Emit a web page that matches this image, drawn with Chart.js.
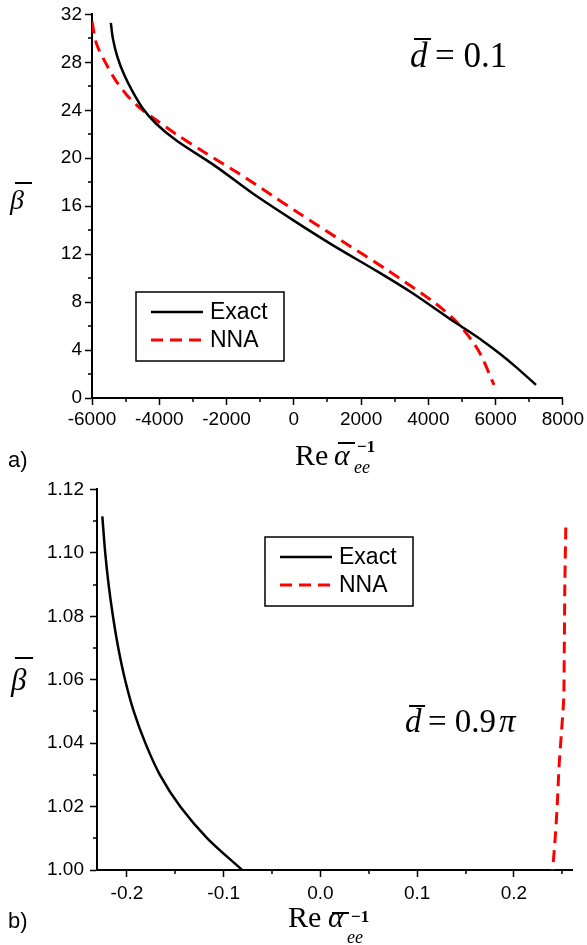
<!DOCTYPE html>
<html>
<head>
<meta charset="utf-8">
<script src="https://cdn.jsdelivr.net/npm/chart.js@4.4.0/dist/chart.umd.min.js"></script>
<style>
    body { margin: 0; background: #fff; width: 587px; height: 945px; position: relative; overflow: hidden; }
    canvas { position: absolute; left: 0; }
    #chartA { top: 0; }
    #chartB { top: 472px; }
    .t { position: absolute; white-space: nowrap; line-height: 1; color: #000; }
    .sans { font-family: "Liberation Sans", Arial, sans-serif; }
    .serif { font-family: "Liberation Serif", "Times New Roman", serif; }
    .it { font-style: italic; }
    .bar { position: absolute; height: 2px; background: #000; }
</style>
</head>
<body>
<canvas id="chartA" width="587" height="472"></canvas>
<canvas id="chartB" width="587" height="473"></canvas>

<!-- panel a texts -->
<div class="t sans" style="left:8px;top:449px;font-size:22px">a)</div>
<div class="t serif it" style="left:10px;top:186px;font-size:28px">&beta;</div>
<div class="bar" style="left:15px;top:182px;width:17px"></div>
<div class="t serif" style="left:295px;top:440px;font-size:30px">Re</div>
<div class="t serif it" style="left:334px;top:440px;font-size:30px">&alpha;</div>
<div class="bar" style="left:338px;top:442px;width:17px"></div>
<div class="t serif" style="left:357px;top:438px;font-size:17px;font-weight:bold">&minus;1</div>
<div class="t serif it" style="left:354px;top:458px;font-size:18px">ee</div>
<div class="t serif it" style="left:410px;top:38px;font-size:35px">d</div>
<div class="bar" style="left:414px;top:38px;width:17px"></div>
<div class="t serif" style="left:435px;top:38px;font-size:35px">= 0.1</div>

<!-- panel b texts -->
<div class="t sans" style="left:8px;top:910px;font-size:22px">b)</div>
<div class="t serif it" style="left:11px;top:664px;font-size:31px">&beta;</div>
<div class="bar" style="left:15px;top:657px;width:18px"></div>
<div class="t serif" style="left:288px;top:902px;font-size:30px">Re</div>
<div class="t serif it" style="left:328px;top:902px;font-size:30px">&alpha;</div>
<div class="bar" style="left:332px;top:912px;width:17px"></div>
<div class="t serif" style="left:351px;top:908px;font-size:17px;font-weight:bold">&minus;1</div>
<div class="t serif it" style="left:347px;top:928px;font-size:18px">ee</div>
<div class="t serif it" style="left:405px;top:705px;font-size:33px">d</div>
<div class="bar" style="left:409px;top:705px;width:16px"></div>
<div class="t serif" style="left:428px;top:705px;font-size:33px">= 0.9<span class="it">&#8202;&pi;</span></div>

<script>
// Panel a) d = 0.1
const exactAX = [-5440, -5380, -5250, -5050, -4800, -4500, -4100, -3500, -2310, -1240, 0, 1130, 2520, 3500, 4590, 5100, 5600, 6100, 6600, 7200];
const exactAY = [31.3, 30.0, 28.5, 27.0, 25.6, 24.2, 22.9, 21.5, 19.3, 17.1, 14.8, 12.8, 10.5, 8.8, 6.7, 5.75, 4.8, 3.75, 2.6, 1.1];
const nnaAX = [-6000, -5860, -5565, -5320, -4973, -4580, -4195, -3494, -2716, -1620, -645, 50, 1430, 2817, 4207, 4888, 5480, 5953];
const nnaAY = [31.4, 29.5, 27.8, 26.6, 25.3, 24.2, 23.4, 22.0, 20.6, 18.7, 16.9, 15.6, 13.1, 10.6, 7.9, 6.2, 4.0, 1.1];

const xTicksA = [-6000, -4000, -2000, 0, 2000, 4000, 6000, 8000];
const xMinorA = [-5000, -3000, -1000, 1000, 3000, 5000, 7000];
const yTicksA = [0, 4, 8, 12, 16, 20, 24, 28, 32];
const yMinorA = [2, 6, 10, 14, 18, 22, 26, 30];

// Panel b) d = 0.9 pi
const exactBX = [-0.2255, -0.2225, -0.219, -0.2145, -0.209, -0.202, -0.193, -0.181, -0.166, -0.145, -0.117, -0.081];
const exactBY = [1.1115, 1.10, 1.09, 1.08, 1.07, 1.06, 1.05, 1.04, 1.03, 1.02, 1.01, 1.00];
const nnaBX = [0.2536, 0.2526, 0.252, 0.2514, 0.249, 0.2466, 0.245, 0.243, 0.240];
const nnaBY = [1.108, 1.09, 1.069, 1.054, 1.043, 1.0326, 1.022, 1.0117, 1.00];

const xTicksB = [-0.2, -0.1, 0.0, 0.1, 0.2];
const xLabelsB = ['-0.2', '-0.1', '0.0', '0.1', '0.2'];
const xMinorB = [-0.15, -0.05, 0.05, 0.15, 0.25];
const yTicksB = [1.00, 1.02, 1.04, 1.06, 1.08, 1.10, 1.12];
const yLabelsB = ['1.00', '1.02', '1.04', '1.06', '1.08', '1.10', '1.12'];
const yMinorB = [1.01, 1.03, 1.05, 1.07, 1.09, 1.11];

const tickFont = { family: 'Liberation Sans, Arial, sans-serif', size: 19 };

function pairs(xs, ys) {
    return xs.map((x, i) => ({ x: x, y: ys[i] }));
}

// minor ticks + boxed legend, Origin style
const frameExtras = {
    id: 'frameExtras',
    afterDraw(chart, args, opts) {
        const { ctx, chartArea: a } = chart;
        const x = chart.scales.x, y = chart.scales.y;
        ctx.save();
        ctx.strokeStyle = '#000';
        ctx.lineWidth = 1.5;
        ctx.beginPath();
        opts.xMinor.forEach(v => {
            const p = Math.round(x.getPixelForValue(v));
            ctx.moveTo(p, a.bottom); ctx.lineTo(p, a.bottom + 4);
        });
        opts.yMinor.forEach(v => {
            const p = Math.round(y.getPixelForValue(v));
            ctx.moveTo(a.left, p); ctx.lineTo(a.left - 4, p);
        });
        ctx.stroke();

        // legend box
        const L = opts.legend;
        ctx.lineWidth = 1.5;
        ctx.strokeRect(L.x, L.y, L.w, L.h);
        ctx.font = '23px "Liberation Sans", Arial, sans-serif';
        ctx.fillStyle = '#000';
        ctx.textBaseline = 'middle';
        chart.data.datasets.forEach((ds, i) => {
            const ly = L.y + 20 + i * 28;
            ctx.beginPath();
            ctx.strokeStyle = ds.borderColor;
            ctx.lineWidth = ds.borderWidth;
            ctx.setLineDash(ds.borderDash || []);
            ctx.moveTo(L.x + 15, ly);
            ctx.lineTo(L.x + 67, ly);
            ctx.stroke();
            ctx.setLineDash([]);
            ctx.fillText(ds.label, L.x + 74, ly + 1);
        });
        ctx.restore();
    }
};

function makeChart(id, cfg) {
    return new Chart(document.getElementById(id), {
        type: 'scatter',
        data: {
            datasets: [{
                label: 'Exact',
                data: cfg.exact,
                showLine: true,
                borderColor: '#000000',
                borderWidth: 2.5,
                pointRadius: 0,
                tension: 0.3,
                fill: false
            }, {
                label: 'NNA',
                data: cfg.nna,
                showLine: true,
                borderColor: '#ff0000',
                borderWidth: 3,
                borderDash: [12, 7],
                pointRadius: 0,
                tension: 0.3,
                fill: false
            }]
        },
        options: {
            responsive: false,
            animation: false,
            devicePixelRatio: 1,
            layout: { padding: cfg.padding },
            plugins: {
                legend: { display: false },
                tooltip: { enabled: false },
                frameExtras: { xMinor: cfg.xMinor, yMinor: cfg.yMinor, legend: cfg.legend }
            },
            scales: {
                x: {
                    type: 'linear',
                    min: cfg.xMin,
                    max: cfg.xMax,
                    afterBuildTicks: s => { s.ticks = cfg.xTicks.map(v => ({ value: v })); },
                    afterFit: s => { s.height = 40; },
                    ticks: {
                        callback: (v, i) => cfg.xLabels[i],
                        font: tickFont,
                        color: '#000',
                        padding: cfg.xPad,
                        maxRotation: 0,
                        autoSkip: false
                    },
                    grid: { drawOnChartArea: false, drawTicks: true, tickLength: 7, tickWidth: 1.5, tickColor: '#000' },
                    border: { display: true, color: '#000', width: 2 }
                },
                y: {
                    type: 'linear',
                    min: cfg.yMin,
                    max: cfg.yMax,
                    afterBuildTicks: s => { s.ticks = cfg.yTicks.map(v => ({ value: v })); },
                    afterFit: s => { s.width = 60; },
                    ticks: {
                        callback: (v, i) => cfg.yLabels[i],
                        font: tickFont,
                        color: '#000',
                        padding: cfg.yPad,
                        autoSkip: false
                    },
                    grid: { drawOnChartArea: false, drawTicks: true, tickLength: 7, tickWidth: 1.5, tickColor: '#000' },
                    border: { display: true, color: '#000', width: 2 }
                }
            }
        },
        plugins: [frameExtras]
    });
}

makeChart('chartA', {
    exact: pairs(exactAX, exactAY),
    nna: pairs(nnaAX, nnaAY),
    xMin: -6000, xMax: 8000, yMin: 0, yMax: 32,
    xTicks: xTicksA, xLabels: xTicksA.map(String),
    yTicks: yTicksA, yLabels: yTicksA.map(String),
    xMinor: xMinorA, yMinor: yMinorA,
    xPad: 3, yPad: 3,
    padding: { left: 32, right: 22, top: 13, bottom: 34 },
    legend: { x: 136, y: 292, w: 148, h: 69 }
});

makeChart('chartB', {
    exact: pairs(exactBX, exactBY),
    nna: pairs(nnaBX, nnaBY),
    xMin: -0.231, xMax: 0.26, yMin: 1.0, yMax: 1.12,
    xTicks: xTicksB, xLabels: xLabelsB,
    yTicks: yTicksB, yLabels: yLabelsB,
    xMinor: xMinorB, yMinor: yMinorB,
    xPad: 5, yPad: 6,
    padding: { left: 37, right: 15, top: 16, bottom: 35 },
    legend: { x: 265, y: 65, w: 148, h: 69 }
});
</script>
</body>
</html>
